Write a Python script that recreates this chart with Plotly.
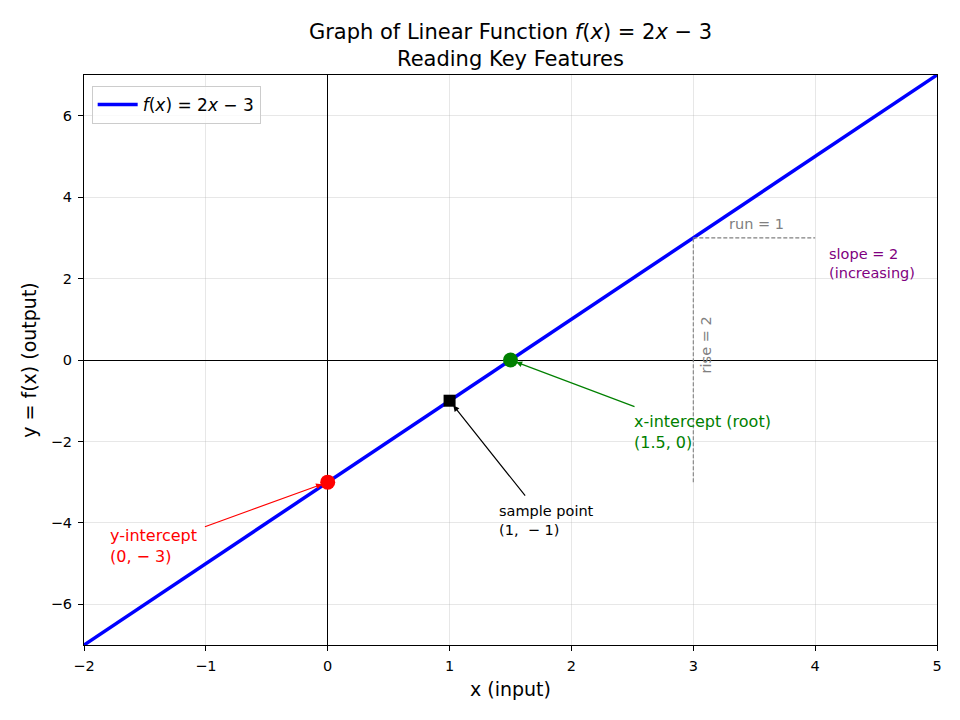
import plotly.graph_objects as go

# Data
line_x = [-2, -1, 0, 1, 2, 3, 4, 5]
line_y = [-7, -5, -3, -1, 1, 3, 5, 7]
y_int = (0, -3)
x_int = (1.5, 0)
sample_pt = (1, -1)
run_x = [3, 4]
run_y = [3, 3]
rise_x = [3, 3]
rise_y = [-3, 3]
x_ticks = [-2, -1, 0, 1, 2, 3, 4, 5]
y_ticks = [-6, -4, -2, 0, 2, 4, 6]

FONT = "DejaVu Sans"

fig = go.Figure()

fig.add_trace(go.Scatter(x=line_x, y=line_y, mode="lines",
                         line=dict(color="#0000ff", width=3.5),
                         name="<i>f</i>(<i>x</i>) = 2<i>x</i> − 3"))
fig.add_trace(go.Scatter(x=run_x, y=run_y, mode="lines",
                         line=dict(color="gray", width=1.1, dash="4px,2px"), showlegend=False))
fig.add_trace(go.Scatter(x=rise_x, y=rise_y, mode="lines",
                         line=dict(color="gray", width=1.1, dash="4px,2px"), showlegend=False))
fig.add_trace(go.Scatter(x=[y_int[0]], y=[y_int[1]], mode="markers",
                         marker=dict(color="red", size=15), showlegend=False))
fig.add_trace(go.Scatter(x=[x_int[0]], y=[x_int[1]], mode="markers",
                         marker=dict(color="green", size=15), showlegend=False))
fig.add_trace(go.Scatter(x=[sample_pt[0]], y=[sample_pt[1]], mode="markers",
                         marker=dict(color="black", size=12, symbol="square"), showlegend=False))

def arrow(x, y, ax, ay, color):
    fig.add_annotation(x=x, y=y, ax=ax, ay=ay, xref="x", yref="y", axref="x", ayref="y",
                       text="", showarrow=True, arrowhead=2, arrowsize=1.0,
                       arrowwidth=1.2, arrowcolor=color, standoff=6)

def label(x, y, text, color, size, **kw):
    fig.add_annotation(x=x, y=y, xref="x", yref="y", text=text, showarrow=False,
                       xanchor="left", yanchor="middle", align="left",
                       font=dict(family=FONT, size=size, color=color), **kw)

arrow(y_int[0], y_int[1], -1.02, -4.11, "red")
label(-1.8, -4.57, "y-intercept<br>(0, − 3)", "red", 16)

arrow(sample_pt[0], sample_pt[1], 1.63, -3.37, "black")
label(1.39, -3.95, "sample point<br>(1,  − 1)", "black", 14.5)

arrow(x_int[0], x_int[1], 2.53, -1.16, "green")
label(2.495, -1.76, "x-intercept (root)<br>(1.5, 0)", "green", 16)

label(4.1, 2.36, "slope = 2<br>(increasing)", "purple", 14.5)

fig.add_annotation(x=3.52, y=3.34, xref="x", yref="y", text="run = 1", showarrow=False,
                   font=dict(family=FONT, size=14.5, color="gray"))
fig.add_annotation(x=3.10, y=0.37, xref="x", yref="y", text="rise = 2", showarrow=False,
                   textangle=-90, font=dict(family=FONT, size=14.5, color="gray"))

axis_common = dict(showgrid=True, gridcolor="rgba(176,176,176,0.3)", gridwidth=1,
                   zeroline=True, zerolinecolor="black", zerolinewidth=1,
                   showline=True, linecolor="black", linewidth=1, mirror=True,
                   ticks="outside", ticklen=5, tickcolor="black", ticklabelstandoff=3,
                   tickfont=dict(family=FONT, size=14.5, color="black"))

fig.update_xaxes(range=[-2, 5], tickvals=x_ticks,
                 ticktext=[str(v).replace("-", "−") for v in x_ticks],
                 title=dict(text="x (input)", font=dict(family=FONT, size=19, color="black"),
                            standoff=9),
                 **axis_common)
fig.update_yaxes(range=[-7, 7], tickvals=y_ticks,
                 ticktext=[str(v).replace("-", "−") for v in y_ticks],
                 title=dict(text="y = f(x) (output)", font=dict(family=FONT, size=19, color="black"),
                            standoff=9),
                 **axis_common)

fig.update_layout(
    width=960, height=720,
    margin=dict(l=84, r=23, t=75, b=75),
    paper_bgcolor="white", plot_bgcolor="white",
    title=dict(text="Graph of Linear Function <i>f</i>(<i>x</i>) = 2<i>x</i> − 3<br>Reading Key Features",
               x=0.5, xref="paper", xanchor="center", y=1 - 39 / 720, yref="container",
               yanchor="middle",
               font=dict(family=FONT, size=21, color="black")),
    legend=dict(x=0.009, y=0.981, xanchor="left", yanchor="top", itemwidth=40,
                bordercolor="#cccccc", borderwidth=1, bgcolor="rgba(255,255,255,0.8)",
                font=dict(family=FONT, size=17, color="black")),
    showlegend=True,
)

fig.write_html("out.html")
